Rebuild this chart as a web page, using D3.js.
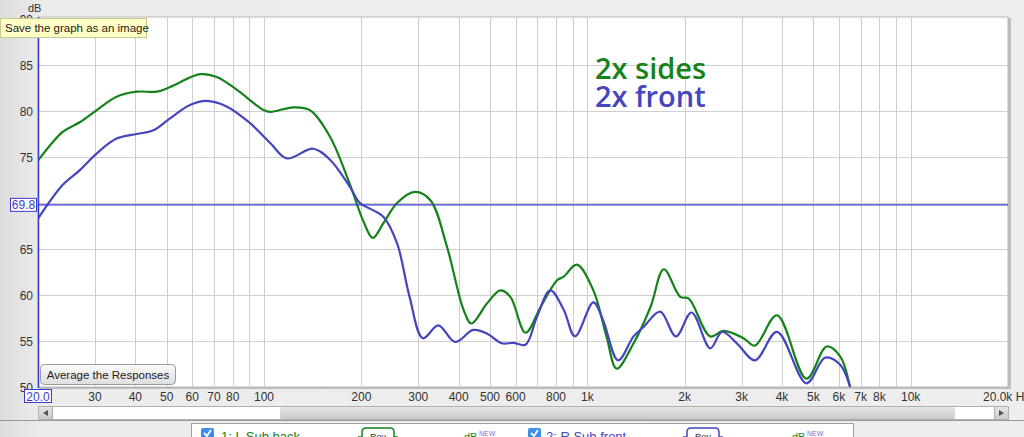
<!DOCTYPE html>
<html><head><meta charset="utf-8">
<script src="https://cdn.jsdelivr.net/npm/d3@7"></script>
<style>
html,body{margin:0;padding:0;overflow:hidden;background:#e9e9e9;}
svg{display:block;font-family:"Liberation Sans","DejaVu Sans",sans-serif;}
</style></head><body>
<script>
// ---- data ----
const sidesFreq = [20,23.9,27,30.4,35,40.4,46.6,51.2,63.4,71.4,82.5,99.7,104.7,123,138.6,160,184,203,217,234,258,293,327,368,414,438,490,538,578,644,717,806,845,928,1044,1146,1232,1390,1568,1724,1938,2060,2400,2640,3040,3300,3860,4760,5500,6060,6500,6800];
const sidesDb   = [74.6,77.75,78.8,80.1,81.55,82.1,82.1,82.6,84.0,83.7,82.3,80.1,79.9,80.4,80.1,77.2,72.1,68.0,66.2,67.8,70.0,71.2,70.3,65.25,58.4,56.9,59.1,60.5,59.8,55.9,58.7,61.6,62.0,63.3,60.5,55.5,52.0,54.75,58.7,62.8,59.8,59.6,55.5,56.1,55.3,54.5,57.8,50.9,54.4,53.3,50.0,47.0];
const frontFreq = [20,23.9,27,30.4,35,40.4,45.5,51.2,59,66.4,76.6,90.4,104.7,117.6,142,160,184,198,218,234,258,282,310,346,390,444,490,544,590,644,698,768,845,916,1044,1118,1245,1390,1490,1680,1880,2100,2400,2610,2900,3300,3860,4760,5440,6060,6500,6800];
const frontDb   = [68.3,72.0,73.6,75.4,77.0,77.5,77.9,79.2,80.65,81.1,80.5,78.7,76.5,74.85,75.9,74.7,71.8,70.0,69.2,68.5,65.6,59.8,55.3,56.7,54.9,56.2,55.8,54.75,54.8,54.6,57.6,60.5,58.4,55.5,59.2,57.3,52.9,55.5,56.5,58.2,55.5,58.1,54.2,56.0,54.75,52.9,56.0,50.4,53.2,52.4,50.0,47.0];
const yTicks = [50,55,60,65,70,75,80,85,90];
const yLabelTicks = [50,55,60,65,75,80,85,90];
const xGrid = [30,40,50,60,70,80,90,100,200,300,400,500,600,700,800,900,1000,2000,3000,4000,5000,6000,7000,8000,9000,10000];
const xLabelVals = [30,40,50,60,70,80,100,200,300,400,500,600,800,1000,2000,3000,4000,5000,6000,7000,8000,10000];
const xLabelText = ["30","40","50","60","70","80","100","200","300","400","500","600","800","1k","2k","3k","4k","5k","6k","7k","8k","10k"];
const markerDb = 69.8;
const seriesNames = ["2x sides","2x front"];
const seriesColors = ["#15821a","#4545bd"];

// ---- layout ----
const W=1024,H=437;
const L=38,R=1008,T=17,B=387;
const svg=d3.select("body").append("svg").attr("width",W).attr("height",H);
const defs=svg.append("defs");
const bg=defs.append("linearGradient").attr("id","bgG").attr("x1",0).attr("x2",1).attr("y1",0).attr("y2",0);
bg.append("stop").attr("offset","0").attr("stop-color","#dcdcdc");
bg.append("stop").attr("offset","0.04").attr("stop-color","#ececec");
bg.append("stop").attr("offset","1").attr("stop-color","#eeeeee");
svg.append("rect").attr("width",W).attr("height",H).attr("fill","url(#bgG)");

const x=d3.scaleLog().domain([20,20000]).range([L,R]);
const y=d3.scaleLinear().domain([50,90]).range([B,19]);

// plot frame shadow + white
svg.append("rect").attr("x",L+1).attr("y",T+1).attr("width",R-L+2).attr("height",B-T+1).attr("fill","#bdbdbd");
svg.append("rect").attr("x",L).attr("y",T).attr("width",R-L).attr("height",B-T).attr("fill","#fff").attr("stroke","#b8b8b8");

// grid
const g=svg.append("g");
g.selectAll(".vg").data(xGrid).join("line")
 .attr("x1",d=>Math.round(x(d))+0.5).attr("x2",d=>Math.round(x(d))+0.5).attr("y1",T).attr("y2",B)
 .attr("stroke","#cfcfcf").attr("stroke-width",1);
g.selectAll(".hg").data(yTicks.filter(d=>d>50&&d<90)).join("line")
 .attr("x1",L).attr("x2",R).attr("y1",d=>Math.round(y(d))+0.5).attr("y2",d=>Math.round(y(d))+0.5)
 .attr("stroke","#cfcfcf").attr("stroke-width",1);

// clip
defs.append("clipPath").attr("id","clip").append("rect").attr("x",L).attr("y",T).attr("width",R-L).attr("height",B-T);

const line=d3.line().x(d=>x(d[0])).y(d=>y(d[1])).curve(d3.curveCatmullRom.alpha(0.5));
const cg=svg.append("g").attr("clip-path","url(#clip)");
cg.append("path").datum(sidesFreq.map((f,i)=>[f,sidesDb[i]])).attr("d",line)
 .attr("fill","none").attr("stroke",seriesColors[0]).attr("stroke-width",2.2);
cg.append("path").datum(frontFreq.map((f,i)=>[f,frontDb[i]])).attr("d",line)
 .attr("fill","none").attr("stroke",seriesColors[1]).attr("stroke-width",2.2);

// marker line
cg.append("line").attr("x1",L).attr("x2",R).attr("y1",y(markerDb)).attr("y2",y(markerDb))
 .attr("stroke","#3a3ad0").attr("stroke-width",1.2);
// left blue axis
svg.append("line").attr("x1",L+0.5).attr("x2",L+0.5).attr("y1",T).attr("y2",B+1).attr("stroke","#3a3ad0").attr("stroke-width",1.5);

// y labels
svg.selectAll(".yl").data(yLabelTicks).join("text")
 .attr("x",33).attr("y",d=>y(d)+4.5).attr("text-anchor","end")
 .attr("font-size",12).attr("fill","#333").text(d=>d);
svg.append("text").attr("x",28).attr("y",12).attr("font-size",11).attr("fill","#333").text("dB");

// 69.8 box
svg.append("rect").attr("x",10.5).attr("y",y(markerDb)-6.5).attr("width",26).attr("height",13).attr("fill","#fff").attr("stroke","#3a3ad0");
svg.append("text").attr("x",23.5).attr("y",y(markerDb)+4.5).attr("text-anchor","middle").attr("font-size",12).attr("fill","#3a3ad0").text(markerDb.toFixed(1));

// x labels
svg.selectAll(".xl").data(xLabelVals).join("text")
 .attr("x",d=>x(d)).attr("y",401).attr("text-anchor","middle")
 .attr("font-size",12).attr("fill","#333").text((d,i)=>xLabelText[i]);
svg.append("text").attr("x",983).attr("y",401).attr("font-size",12).attr("fill","#333").text("20.0k Hz");
svg.append("rect").attr("x",24.5).attr("y",389.5).attr("width",27).attr("height",13).attr("fill","#fff").attr("stroke","#3a3ad0");
svg.append("text").attr("x",38).attr("y",400.5).attr("text-anchor","middle").attr("font-size",12).attr("fill","#3a3ad0").text("20.0");

// scrollbar
svg.append("rect").attr("x",38.5).attr("y",406.5).attr("width",970).attr("height",13).attr("fill","#fff").attr("stroke","#b0b0b0");
const th=defs.append("linearGradient").attr("id","thG").attr("x1",0).attr("x2",0).attr("y1",0).attr("y2",1);
th.append("stop").attr("offset","0").attr("stop-color","#e6e6e6");
th.append("stop").attr("offset","1").attr("stop-color","#c9c9c9");
svg.append("rect").attr("x",280).attr("y",407).attr("width",675).attr("height",12).attr("rx",2).attr("fill","url(#thG)");
svg.append("rect").attr("x",38.5).attr("y",406.5).attr("width",14).attr("height",13).attr("fill","url(#thG)").attr("stroke","#b0b0b0");
svg.append("rect").attr("x",994.5).attr("y",406.5).attr("width",14).attr("height",13).attr("fill","url(#thG)").attr("stroke","#b0b0b0");
svg.append("path").attr("d","M43,413 L48,410 L48,416 Z").attr("fill","#555");
svg.append("path").attr("d","M1004,413 L999,410 L999,416 Z").attr("fill","#555");
svg.append("line").attr("x1",0).attr("x2",W).attr("y1",420.5).attr("y2",420.5).attr("stroke","#9a9a9a");

// average button
const bt=defs.append("linearGradient").attr("id","btG").attr("x1",0).attr("x2",0).attr("y1",0).attr("y2",1);
bt.append("stop").attr("offset","0").attr("stop-color","#fafafa");
bt.append("stop").attr("offset","1").attr("stop-color","#dedede");
svg.append("rect").attr("x",40.5).attr("y",364.5).attr("width",135).attr("height",20).attr("rx",4).attr("fill","url(#btG)").attr("stroke","#9a9a9a");
svg.append("text").attr("x",108).attr("y",378.5).attr("text-anchor","middle").attr("font-size",11.5).attr("fill","#222").text("Average the Responses");

// annotation
svg.append("text").attr("x",595).attr("y",79).attr("font-family","'Open Sans',sans-serif").attr("font-weight",600).attr("font-size",29).attr("fill",seriesColors[0]).text(seriesNames[0]);
svg.append("text").attr("x",595).attr("y",107).attr("font-family","'Open Sans',sans-serif").attr("font-weight",600).attr("font-size",29).attr("fill",seriesColors[1]).text(seriesNames[1]);

// tooltip
svg.append("rect").attr("x",0.5).attr("y",18.5).attr("width",146).attr("height",19).attr("fill","#ffffc6").attr("stroke","#c8c890");
svg.append("text").attr("x",5).attr("y",32).attr("font-size",11.5).attr("fill","#222").text("Save the graph as an image");

// bottom legend panel (partially visible)
svg.append("rect").attr("x",191.5).attr("y",423.5).attr("width",662).attr("height",20).attr("fill","#fff").attr("stroke","#a0a0a0");
const legendItems=[{cb:201,txt:"1: L Sub back",tx:221,box:362,db:464,col:seriesColors[0]},{cb:528,txt:"2: R Sub front",tx:546,box:687,db:792,col:seriesColors[1]}];
legendItems.forEach(it=>{
  svg.append("rect").attr("x",it.cb).attr("y",428).attr("width",13).attr("height",13).attr("rx",2).attr("fill","#3d8ee8");
  svg.append("path").attr("d",`M${it.cb+3},${433} L${it.cb+6},${436} L${it.cb+10},${430}`).attr("stroke","#fff").attr("stroke-width",1.8).attr("fill","none");
  svg.append("text").attr("x",it.tx).attr("y",441).attr("font-size",13).attr("fill",it.col).text(it.txt);
  svg.append("path").attr("d",`M${it.box-4},437 L${it.box},437 L${it.box},432 Q${it.box},428 ${it.box+4},428 L${it.box+28},428 Q${it.box+32},428 ${it.box+32},432 L${it.box+32},437 L${it.box+36},437`)
    .attr("fill","#fff").attr("stroke",it.col).attr("stroke-width",1.5);
  svg.append("text").attr("x",it.box+16).attr("y",440).attr("text-anchor","middle").attr("font-size",9).attr("fill","#333").text("Rev");
  svg.append("text").attr("x",it.db).attr("y",441).attr("font-size",11).attr("fill",seriesColors[0]).text("dB");
  svg.append("text").attr("x",it.db+15).attr("y",436).attr("font-size",7).attr("fill","#7070e0").text("NEW");
});
</script>
</body></html>
